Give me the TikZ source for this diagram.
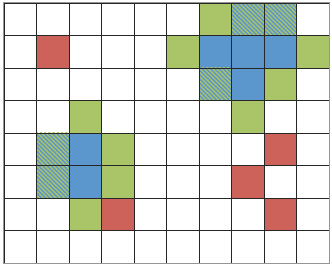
\documentclass[tikz,border=0pt]{standalone}
\usepackage{tikz}
\usetikzlibrary{patterns.meta}
\definecolor{cellred}{RGB}{205,98,90}
\definecolor{cellgreen}{RGB}{170,196,104}
\definecolor{cellblue}{RGB}{91,150,204}
\definecolor{rimgray}{RGB}{150,150,150}

\begin{document}
\begin{tikzpicture}[
      redcell/.style={fill=cellred},
      greencell/.style={fill=cellgreen},
      bluecell/.style={fill=cellblue},
      mixcell/.style={fill=cellblue, postaction={pattern={Lines[angle=-45, distance=2.6pt, line width=1.2pt]}, pattern color=cellgreen}},
      gridline/.style={line width=0.5pt, draw=black!85}
    ]
      \useasboundingbox (-0.12,-0.15) rectangle (10.09,8.09);

      % red cells (column, row from top)
      \foreach \c/\r in {1/1, 8/4, 7/5, 3/6, 8/6}
        \fill[redcell] (\c,7-\r) rectangle ++(1,1);

      % green cells
      \foreach \c/\r in {6/0, 5/1, 9/1, 8/2, 2/3, 7/3, 3/4, 3/5, 2/6}
        \fill[greencell] (\c,7-\r) rectangle ++(1,1);

      % blue cells
      \foreach \c/\r in {6/1, 7/1, 8/1, 7/2, 2/4, 2/5}
        \fill[bluecell] (\c,7-\r) rectangle ++(1,1);

      % blue and green hatched cells
      \foreach \c/\r in {7/0, 8/0, 6/2, 1/4, 1/5}
        \fill[mixcell] (\c,7-\r) rectangle ++(1,1);

      % grid
      \draw[gridline] (0,0) grid (10,8);
      \draw[rimgray, line width=0.9pt] (0,0) rectangle (10,8);
    \end{tikzpicture}
\end{document}
